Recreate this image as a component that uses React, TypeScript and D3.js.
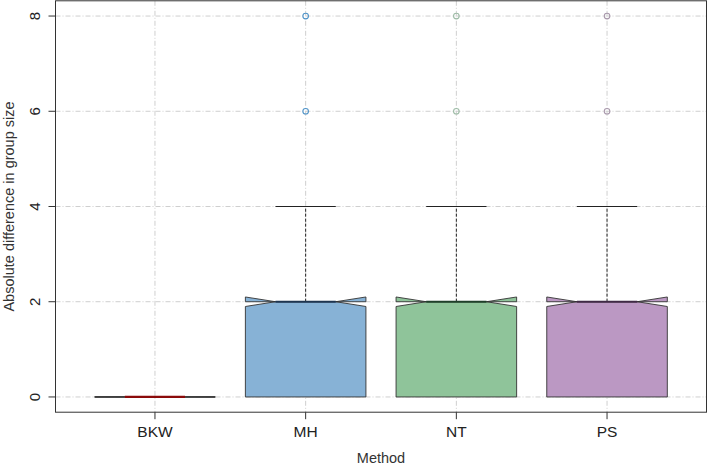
import React from "react";
import * as d3 from "d3";

const categories = ["BKW", "MH", "NT", "PS"];
const lowerWhisker = [0, 0, 0, 0];
const q1 = [0, 0, 0, 0];
const medians = [0, 2, 2, 2];
const q3 = [0, 2, 2, 2];
const upperWhisker = [0, 4, 4, 4];
const notchHalf = [0, 0.1, 0.1, 0.1];
const outliers = [[], [6, 8], [6, 8], [6, 8]];
const yTicks = [0, 2, 4, 6, 8];

const fills = ["#e8898a", "#87b2d6", "#8fc49a", "#bb98c3"];
const medianColors = ["#8b0a0a", "#1e3550", "#1f3f2a", "#3f2a45"];
const outlierColors = ["#c44", "#4f93c8", "#9dbba6", "#a898ab"];

const W = 709;
const H = 468;
const left = 55.5;
const right = 706.5;
const top = 0.8;
const bottom = 412.2;

export default function App() {
  const x = d3.scaleLinear().domain([0.34, 4.66]).range([left, right]);
  const y = d3.scaleLinear().domain([-0.32, 8.32]).range([bottom, top]);
  const boxHalf = 0.4 * (x(1) - x(0));
  const capHalf = boxHalf / 2;
  const font = "'Liberation Sans', Arial, Helvetica, sans-serif";
  const gridColor = "#cfcfcf";
  const gridDash = "5,2,1,2";

  return (
    <svg
      width={W}
      height={H}
      style={{ position: "absolute", left: 0, top: 0, background: "#fff" }}
      fontFamily={font}
    >
      {/* grid */}
      {yTicks.map((t) => (
        <line key={"gy" + t} x1={left} x2={right} y1={y(t)} y2={y(t)} stroke={gridColor} strokeDasharray={gridDash} strokeWidth={1} />
      ))}
      {categories.map((c, i) => (
        <line key={"gx" + c} x1={x(i + 1)} x2={x(i + 1)} y1={top} y2={bottom} stroke={gridColor} strokeDasharray={gridDash} strokeWidth={1} />
      ))}

      {categories.map((c, i) => {
        const cx = x(i + 1);
        const xl = cx - boxHalf;
        const xr = cx + boxHalf;
        const nf = 0.5;
        const m = medians[i];
        const n = notchHalf[i];
        const pts: [number, number][] = [
          [xl, y(q1[i])],
          [xr, y(q1[i])],
          [xr, y(m - n)],
          [cx + boxHalf * nf, y(m)],
          [xr, y(m + n)],
          [xr, y(q3[i])],
          [xl, y(q3[i])],
          [xl, y(m + n)],
          [cx - boxHalf * nf, y(m)],
          [xl, y(m - n)],
        ];
        const line = d3.line();
        const hasWhisker = upperWhisker[i] > q3[i];
        return (
          <g key={c}>
            {hasWhisker && (
              <>
                <line x1={cx} x2={cx} y1={y(q3[i])} y2={y(upperWhisker[i])} stroke="#222" strokeDasharray="3,2" strokeWidth={1} />
                <line x1={cx - capHalf} x2={cx + capHalf} y1={y(upperWhisker[i])} y2={y(upperWhisker[i])} stroke="#222" strokeWidth={1} />
              </>
            )}
            {lowerWhisker[i] < q1[i] && (
              <>
                <line x1={cx} x2={cx} y1={y(q1[i])} y2={y(lowerWhisker[i])} stroke="#222" strokeDasharray="3,2" />
                <line x1={cx - capHalf} x2={cx + capHalf} y1={y(lowerWhisker[i])} y2={y(lowerWhisker[i])} stroke="#222" />
              </>
            )}
            <path d={line(pts) + "Z"} fill={fills[i]} stroke="#333" strokeWidth={0.9} strokeLinejoin="miter" />
            <line x1={cx - boxHalf * nf} x2={cx + boxHalf * nf} y1={y(m)} y2={y(m)} stroke={medianColors[i]} strokeWidth={2.2} />
            {outliers[i].map((o, k) => (
              <circle key={k} cx={cx} cy={y(o)} r={2.8} fill="none" stroke={outlierColors[i]} strokeWidth={1.1} />
            ))}
          </g>
        );
      })}

      {/* frame */}
      <rect x={left} y={top} width={right - left} height={bottom - top} fill="none" stroke="#333" strokeWidth={1} />

      {/* y axis */}
      {yTicks.map((t) => (
        <g key={"yt" + t}>
          <line x1={left - 7} x2={left} y1={y(t)} y2={y(t)} stroke="#333" />
          <text
            transform={`translate(${40},${y(t)}) rotate(-90)`}
            textAnchor="middle"
            fontSize={15}
            fill="#222"
          >
            {t}
          </text>
        </g>
      ))}
      {/* x axis */}
      {categories.map((c, i) => (
        <g key={"xt" + c}>
          <line x1={x(i + 1)} x2={x(i + 1)} y1={bottom} y2={bottom + 7} stroke="#333" />
          <text x={x(i + 1)} y={437} textAnchor="middle" fontSize={15.5} fill="#222">
            {c}
          </text>
        </g>
      ))}
      <text x={(left + right) / 2} y={463} textAnchor="middle" fontSize={14.5} fill="#333">
        Method
      </text>
      <text
        transform={`translate(${14},${(top + bottom) / 2}) rotate(-90)`}
        textAnchor="middle"
        fontSize={14.5}
        fill="#333"
      >
        Absolute difference in group size
      </text>
    </svg>
  );
}
